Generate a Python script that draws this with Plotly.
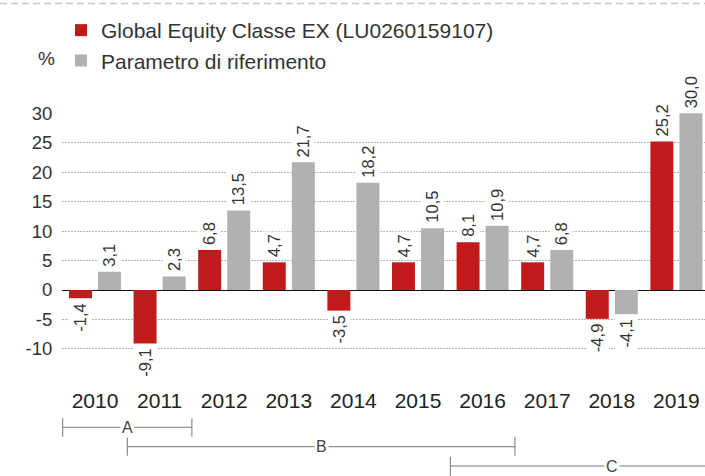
import plotly.graph_objects as go

# ---------------- data ----------------
years = ["2010", "2011", "2012", "2013", "2014", "2015", "2016", "2017", "2018", "2019"]
fund_name = "Global Equity Classe EX (LU0260159107)"
bench_name = "Parametro di riferimento"
fund_values = [-1.4, -9.1, 6.8, 4.7, -3.5, 4.7, 8.1, 4.7, -4.9, 25.2]
bench_values = [3.1, 2.3, 13.5, 21.7, 18.2, 10.5, 10.9, 6.8, -4.1, 30.0]
y_ticks = [-10, -5, 0, 5, 10, 15, 20, 25, 30]
y_unit = "%"
# periods shown under the axis: (label, first year, last year)
period_labels = ["A", "B", "C"]
period_start = ["2010", "2011", "2016"]
period_end = ["2011", "2016", "2020"]

# ---------------- style / geometry ----------------
W, H = 705, 476
ML, MR, MT, MB = 62, 0, 113, 92
RED = "#c21a1b"
GREY = "#b0b1b3"
FONT = "Liberation Sans, Arial, Helvetica, sans-serif"
TXT = "#333333"

plot_w = W - ML - MR
plot_h = H - MT - MB
# pixel geometry of the reference: 0 at 290px, 30 at 113.3px, category step 64.6px
px_per_unit = (290 - 113.3) / 30.0
y_max = 30 + (113.3 - MT) / px_per_unit
y_min = -((H - MB) - 290) / px_per_unit
step = 64.6
x_min = -(95 - ML) / step
x_max = x_min + plot_w / step

bargap = 0.10
bargroupgap = 0.21
half_off = (1 - bargap) / 4.0

xs = list(range(len(years)))

def py_paper(py):
    return ((H - MB) - py) / plot_h

def px_paper(px):
    return (px - ML) / plot_w

def fmt(v):
    return f"{v:.1f}".replace(".", ",")

fig = go.Figure()
fig.add_trace(go.Bar(x=xs, y=fund_values, name=fund_name, marker_color=RED,
                     marker_line_width=0))
fig.add_trace(go.Bar(x=xs, y=bench_values, name=bench_name, marker_color=GREY,
                     marker_line_width=0))

annotations = []
# value labels
for vals, off in ((fund_values, -half_off), (bench_values, half_off)):
    for i, v in enumerate(vals):
        annotations.append(dict(
            x=i + off, y=v, xref="x", yref="y", text=fmt(v), showarrow=False,
            textangle=-90, xanchor="center",
            yanchor="bottom" if v >= 0 else "top",
            yshift=2 if v >= 0 else -2,
            font=dict(family=FONT, size=16.5, color=TXT),
            bgcolor="white", borderpad=2,
        ))

# % unit label
annotations.append(dict(x=px_paper(46.5), y=py_paper(58), xref="paper", yref="paper",
                        text=y_unit, showarrow=False, xanchor="center", yanchor="middle",
                        font=dict(family=FONT, size=19, color=TXT)))

shapes = []
# dashed rule at the top
shapes.append(dict(type="line", xref="paper", yref="paper",
                   x0=px_paper(0), x1=px_paper(W), y0=py_paper(3.5), y1=py_paper(3.5),
                   line=dict(color="#c8c8c8", width=1.5, dash="7px,4px")))

# period brackets
rows = [(418.3, 436.7, 427.3), (436.7, 455.7, 446.7), (456.7, 476.5, 466.0)]
for lab, s, e, (ytop, ybot, ymid) in zip(period_labels, period_start, period_end, rows):
    x0 = int(s) - int(years[0]) - 0.5
    x1 = int(e) - int(years[0]) + 0.5
    lc = dict(color="#777777", width=1)
    shapes.append(dict(type="line", xref="x", yref="paper", x0=x0, x1=x1,
                       y0=py_paper(ymid), y1=py_paper(ymid), line=lc))
    shapes.append(dict(type="line", xref="x", yref="paper", x0=x0, x1=x0,
                       y0=py_paper(ytop), y1=py_paper(ybot), line=lc))
    shapes.append(dict(type="line", xref="x", yref="paper", x0=x1, x1=x1,
                       y0=py_paper(ytop), y1=py_paper(ybot), line=lc))
    annotations.append(dict(x=(x0 + x1) / 2, y=py_paper(ymid), xref="x", yref="paper",
                            text=lab, showarrow=False, xanchor="center", yanchor="middle",
                            font=dict(family=FONT, size=16, color="#444444"),
                            bgcolor="white", borderpad=1))

fig.update_layout(
    width=W, height=H,
    margin=dict(l=ML, r=MR, t=MT, b=MB, pad=0),
    paper_bgcolor="white", plot_bgcolor="white",
    barmode="group", bargap=bargap, bargroupgap=bargroupgap,
    font=dict(family=FONT, color=TXT),
    showlegend=True,
    legend=dict(x=px_paper(61), y=py_paper(10), xanchor="left", yanchor="top",
                font=dict(family=FONT, size=21, color=TXT),
                bgcolor="rgba(0,0,0,0)", itemclick=False),
    xaxis=dict(range=[x_min, x_max], tickvals=xs, ticktext=years,
               showgrid=False, zeroline=False, showline=False, ticks="",
               tickfont=dict(family=FONT, size=21, color="#222222"),
               ticklabelstandoff=2, fixedrange=True),
    yaxis=dict(range=[y_min, y_max], tickvals=y_ticks,
               ticktext=[str(t) for t in y_ticks],
               showgrid=True, gridcolor="#b5b5b5", gridwidth=1, griddash="1.5px,1.5px",
               zeroline=True, zerolinecolor="#111111", zerolinewidth=1.4,
               showline=False, ticks="outside", ticklen=5, tickcolor="rgba(0,0,0,0)",
               tickfont=dict(family=FONT, size=18.5, color=TXT), fixedrange=True),
    annotations=annotations,
    shapes=shapes,
)

fig.write_html("out.html", config={"displayModeBar": False},
               post_script="document.body.style.margin='0';document.body.style.overflow='hidden';")
